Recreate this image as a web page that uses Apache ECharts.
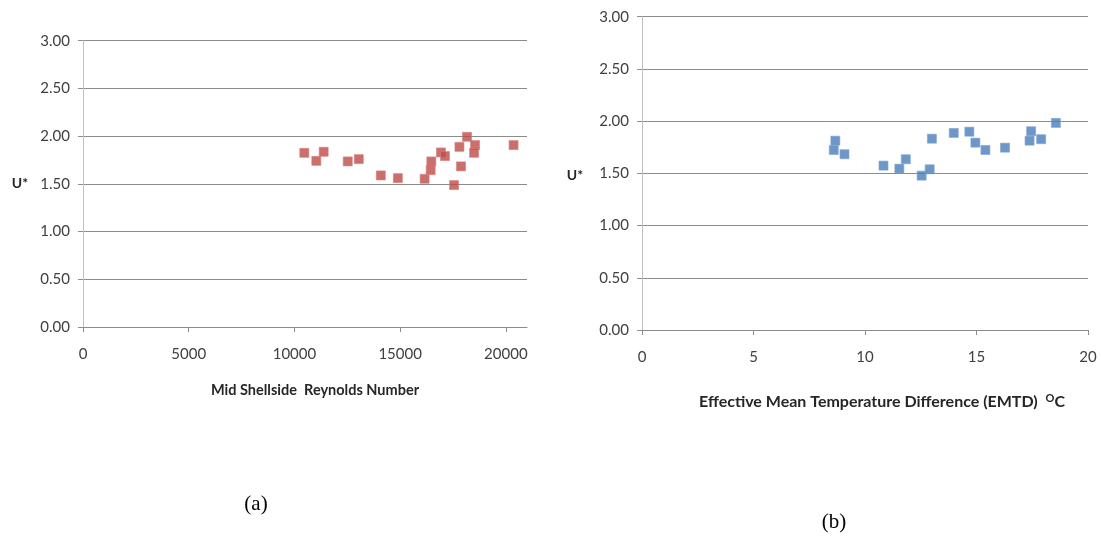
<!DOCTYPE html>
<html>
<head>
<meta charset="utf-8">
<script src="https://cdn.jsdelivr.net/npm/echarts@6/dist/echarts.min.js"></script>
<style>
  html, body { margin: 0; padding: 0; background: #fff; }
  #chart { width: 1101px; height: 536px; }
</style>
</head>
<body>
<div id="chart"></div>
<script>
// (a) U* against mid-shellside Reynolds number
const reynolds = [10467, 11036, 11383, 12521, 13043, 14086, 14892, 16158, 16443, 16475,
                  16931, 17121, 17548, 17804, 17880, 18164, 18544, 18497, 20365];
const uStarA   = [1.825, 1.741, 1.836, 1.735, 1.759, 1.588, 1.560, 1.553, 1.644, 1.735,
                  1.829, 1.791, 1.487, 1.888, 1.683, 1.993, 1.906, 1.825, 1.906];

// (b) U* against effective mean temperature difference
const emtd   = [8.67, 8.60, 9.08, 10.83, 11.54, 11.83, 12.54, 12.90, 13.00, 13.98,
                14.68, 14.95, 15.40, 16.28, 17.45, 17.38, 17.90, 18.56];
const uStarB = [1.813, 1.724, 1.683, 1.574, 1.545, 1.635, 1.478, 1.539, 1.832, 1.887,
                1.899, 1.794, 1.724, 1.746, 1.903, 1.813, 1.827, 1.983];

const titleA = 'Mid Shellside  Reynolds Number';
const titleB = 'Effective Mean Temperature Difference (EMTD)  ';
const yName = 'U*';

const FONT = 'Lato, "Open Sans", sans-serif';
const labelColor = '#404040';
const gridColor = '#8c8c8c';

function pairs(xs, ys) { return xs.map((x, i) => [x, ys[i]]); }

function yAxisCfg(gridIndex) {
  return {
    type: 'value', gridIndex, min: 0, max: 3, interval: 0.5,
    axisLine: { show: true, lineStyle: { color: '#c0c0c0', width: 1 } },
    axisTick: { show: true, length: 5, lineStyle: { color: '#8c8c8c' } },
    axisLabel: { color: labelColor, fontFamily: FONT, fontSize: 15, margin: 13,
                 formatter: v => v.toFixed(2) },
    splitLine: { show: true, lineStyle: { color: gridColor, width: 1 } }
  };
}

function xAxisCfg(gridIndex, max, interval) {
  return {
    type: 'value', gridIndex, min: 0, max, interval,
    axisLine: { show: true, onZero: false, lineStyle: { color: gridColor, width: 1 } },
    axisTick: { show: true, length: 5, lineStyle: { color: gridColor } },
    axisLabel: { color: labelColor, fontFamily: FONT, fontSize: 15, margin: 20,
                 showMaxLabel: max % interval === 0,
                 formatter: v => String(v) },
    splitLine: { show: false }
  };
}

const chart = echarts.init(document.getElementById('chart'), null, { renderer: 'canvas' });
chart.setOption({
  animation: false,
  backgroundColor: '#ffffff',
  grid: [
    { left: 83, top: 40.7, width: 444, height: 286.3 },
    { left: 642, top: 16.7, width: 446, height: 313.3 }
  ],
  xAxis: [ xAxisCfg(0, 21000, 5000), xAxisCfg(1, 20, 5) ],
  yAxis: [ yAxisCfg(0), yAxisCfg(1) ],
  series: [
    { type: 'scatter', xAxisIndex: 0, yAxisIndex: 0, symbol: 'rect', symbolSize: 9,
      itemStyle: { color: '#be4b48', borderColor: '#d47f7c', borderWidth: 0.8 },
      data: pairs(reynolds, uStarA) },
    { type: 'scatter', xAxisIndex: 1, yAxisIndex: 1, symbol: 'rect', symbolSize: 9,
      itemStyle: { color: '#4a7dbb', borderColor: '#7fa3d0', borderWidth: 0.8 },
      data: pairs(emtd, uStarB) }
  ],
  graphic: [
    { type: 'text', x: 20, y: 183,
      style: { text: yName, font: 'bold 14px ' + FONT, fill: '#262626',
               align: 'center', verticalAlign: 'middle' } },
    { type: 'text', x: 575, y: 175,
      style: { text: yName, font: 'bold 14px ' + FONT, fill: '#262626',
               align: 'center', verticalAlign: 'middle' } },
    { type: 'text', x: 315, y: 390,
      style: { text: titleA, font: 'bold 14.5px ' + FONT, fill: '#262626',
               align: 'center', verticalAlign: 'middle' } },
    { type: 'text', x: 882, y: 402,
      style: { text: titleB + '{sup|O}C', font: 'bold 16px ' + FONT, fill: '#262626',
               align: 'center', verticalAlign: 'middle',
               rich: { sup: { font: 'bold 11px ' + FONT, fill: '#262626', padding: [0, 0, 8, 0] } } } },
    { type: 'text', x: 256, y: 504,
      style: { text: '(a)', font: '21px "Liberation Serif", serif', fill: '#000',
               align: 'center', verticalAlign: 'middle' } },
    { type: 'text', x: 834, y: 522,
      style: { text: '(b)', font: '21px "Liberation Serif", serif', fill: '#000',
               align: 'center', verticalAlign: 'middle' } }
  ]
});
</script>
</body>
</html>
